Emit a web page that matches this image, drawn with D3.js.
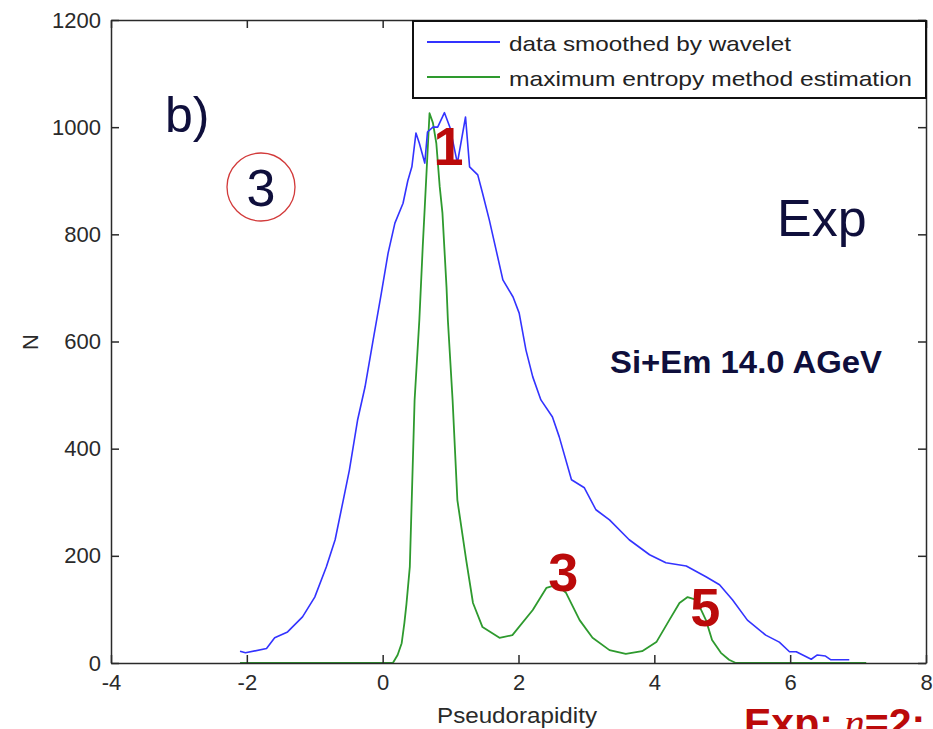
<!DOCTYPE html>
<html>
<head>
<meta charset="utf-8">
<script src="https://cdn.jsdelivr.net/npm/d3@7/dist/d3.min.js"></script>
<style>
  html, body { margin: 0; padding: 0; background: #ffffff; }
  svg { display: block; }
  text { font-family: "Liberation Sans", Arial, Helvetica, sans-serif; }
</style>
</head>
<body>
<svg id="chart" width="933" height="729"></svg>
<script>
// ---- data ----
const xTicks = [-4, -2, 0, 2, 4, 6, 8];
const yTicks = [0, 200, 400, 600, 800, 1000, 1200];

const blueX = [-2.10, -2.02, -1.71, -1.59, -1.40, -1.18, -1.00, -0.83, -0.70, -0.58,
               -0.49, -0.37, -0.26, -0.14, -0.02, 0.08, 0.18, 0.30, 0.37, 0.43,
               0.49, 0.54, 0.62, 0.66, 0.74, 0.81, 0.91, 0.99, 1.10, 1.22,
               1.28, 1.40, 1.47, 1.57, 1.67, 1.77, 1.92, 2.01, 2.11, 2.21,
               2.33, 2.50, 2.60, 2.78, 2.97, 3.14, 3.34, 3.63, 3.93, 4.17,
               4.47, 4.76, 4.96, 5.15, 5.37, 5.64, 5.84, 5.99, 6.09, 6.31,
               6.40, 6.52, 6.60, 6.87];
const blueN = [22, 19, 27, 47, 58, 86, 123, 179, 230, 304,
               360, 453, 515, 603, 690, 765, 821, 858, 900, 926,
               989, 970, 933, 991, 1000, 1000, 1027, 1000, 933, 1019,
               926, 911, 877, 827, 771, 715, 683, 653, 584, 534,
               491, 459, 422, 342, 327, 286, 267, 230, 202, 187,
               181, 161, 146, 118, 80, 52, 39, 21, 21, 7,
               15, 13, 6, 6];

const greenX = [-2.10, -0.34, 0.15, 0.22, 0.28, 0.32, 0.35, 0.40, 0.47, 0.54,
                0.59, 0.62, 0.65, 0.69, 0.74, 0.79, 0.84, 0.88, 0.91, 0.94,
                0.96, 1.03, 1.10, 1.23, 1.33, 1.47, 1.72, 1.91, 2.21, 2.41,
                2.56, 2.70, 2.90, 3.09, 3.34, 3.58, 3.82, 4.03, 4.22, 4.37,
                4.49, 4.62, 4.76, 4.85, 4.98, 5.10, 5.20, 7.12];
const greenN = [0, 0, 0, 15, 37, 75, 110, 180, 490, 640,
                777, 851, 926, 1026, 1008, 970, 889, 840, 771, 702,
                640, 490, 304, 192, 112, 67, 47, 52, 99, 140,
                146, 131, 80, 47, 24, 17, 22, 39, 80, 112,
                123, 118, 80, 43, 19, 6, 0, 0];

const seriesNames = ["data smoothed by wavelet", "maximum entropy method estimation"];
const seriesColors = ["#3333ff", "#2e9a2e"];

const peakLabels = [
  { text: "1", x: 0.97, n: 930 },
  { text: "3", x: 2.66, n: 135 },
  { text: "5", x: 4.75, n: 69 }
];

// ---- layout ----
const W = 933, H = 729;
const L = 111, R = 926, T = 20, B = 663;
const svg = d3.select("#chart");
svg.append("rect").attr("width", W).attr("height", H).attr("fill", "#fff");

const x = d3.scaleLinear().domain([-4, 8]).range([L, R]);
const y = d3.scaleLinear().domain([0, 1200]).range([B, T]);

const axisColor = "#2a2a2a";
const tickFont = 22;
const fmt = d => String(d);

// lines
const line = d3.line().x(d => x(d[0])).y(d => y(d[1]));
const blueData = blueX.map((v, i) => [v, blueN[i]]);
const greenData = greenX.map((v, i) => [v, greenN[i]]);

svg.append("path").datum(greenData)
  .attr("d", line).attr("fill", "none")
  .attr("stroke", seriesColors[1]).attr("stroke-width", 1.8)
  .attr("stroke-linejoin", "round");
svg.append("path").datum(blueData)
  .attr("d", line).attr("fill", "none")
  .attr("stroke", seriesColors[0]).attr("stroke-width", 1.6)
  .attr("stroke-linejoin", "round");

// axes (MATLAB box style, inward ticks)
function styleAxis(g) {
  g.selectAll("path").attr("stroke", axisColor).attr("stroke-width", 1.5);
  g.selectAll("line").attr("stroke", axisColor).attr("stroke-width", 1.5);
  g.selectAll("text").attr("fill", axisColor).attr("font-size", tickFont)
    .attr("font-family", "'Liberation Sans', Arial, sans-serif");
}
svg.append("g").attr("transform", `translate(0,${B})`)
  .call(d3.axisBottom(x).tickValues(xTicks).tickSizeInner(-8).tickSizeOuter(0).tickPadding(11).tickFormat(fmt))
  .call(styleAxis);
svg.append("g").attr("transform", `translate(${L},0)`)
  .call(d3.axisLeft(y).tickValues(yTicks).tickSizeInner(-8).tickSizeOuter(0).tickPadding(10).tickFormat(fmt))
  .call(styleAxis);
svg.append("g").attr("transform", `translate(0,${T})`)
  .call(d3.axisTop(x).tickValues(xTicks).tickSizeInner(-8).tickSizeOuter(0).tickFormat(""))
  .call(styleAxis);
svg.append("g").attr("transform", `translate(${R},0)`)
  .call(d3.axisRight(y).tickValues(yTicks).tickSizeInner(-8).tickSizeOuter(0).tickFormat(""))
  .call(styleAxis);

// axis labels
svg.append("text").attr("x", 517).attr("y", 723).attr("text-anchor", "middle")
  .attr("font-size", 22).attr("fill", axisColor)
  .attr("textLength", 160).attr("lengthAdjust", "spacingAndGlyphs")
  .text("Pseudorapidity");
svg.append("text").attr("transform", "translate(38,342) rotate(-90)")
  .attr("text-anchor", "middle").attr("font-size", 22).attr("fill", axisColor)
  .text("N");

// legend
const lg = svg.append("g");
lg.append("rect").attr("x", 413).attr("y", 21).attr("width", 513).attr("height", 77)
  .attr("fill", "#fff").attr("stroke", "#111").attr("stroke-width", 2);
const legendRows = [42, 77];
const legendLens = [282, 403];
seriesNames.forEach((name, i) => {
  lg.append("line").attr("x1", 427).attr("x2", 500)
    .attr("y1", legendRows[i]).attr("y2", legendRows[i])
    .attr("stroke", seriesColors[i]).attr("stroke-width", 1.8);
  lg.append("text").attr("x", 509).attr("y", legendRows[i] + 9)
    .attr("font-size", 21).attr("fill", "#222")
    .attr("textLength", legendLens[i]).attr("lengthAdjust", "spacingAndGlyphs")
    .text(name);
});

// annotations
const navy = "#0f0f3c";
const red = "#bb0a0a";
svg.append("text").attr("x", 165).attr("y", 132).attr("font-size", 50)
  .attr("fill", navy).text("b)");
svg.append("circle").attr("cx", 261).attr("cy", 187).attr("r", 34)
  .attr("fill", "none").attr("stroke", "#d23a3a").attr("stroke-width", 1.3);
svg.append("text").attr("x", 261).attr("y", 206).attr("text-anchor", "middle")
  .attr("font-size", 52).attr("fill", navy).text("3");
svg.append("text").attr("x", 777).attr("y", 236).attr("font-size", 52)
  .attr("fill", navy).text("Exp");
svg.append("text").attr("x", 610).attr("y", 373).attr("font-size", 32)
  .attr("font-weight", "bold").attr("fill", navy)
  .attr("textLength", 272).attr("lengthAdjust", "spacingAndGlyphs")
  .text("Si+Em 14.0 AGeV");

peakLabels.forEach(p => {
  svg.append("text").attr("x", x(p.x)).attr("y", y(p.n))
    .attr("text-anchor", "middle").attr("font-size", 54)
    .attr("font-weight", "bold").attr("fill", red).text(p.text);
});

const bottomTxt = svg.append("text").attr("x", 744).attr("y", 737)
  .attr("font-size", 41).attr("font-weight", "bold").attr("fill", red);
bottomTxt.append("tspan").text("Exp: ");
bottomTxt.append("tspan").attr("font-family", "'Liberation Serif', 'DejaVu Serif', serif")
  .attr("font-style", "italic").attr("font-weight", "normal").text("n");
bottomTxt.append("tspan").text("=2:");
</script>
</body>
</html>
